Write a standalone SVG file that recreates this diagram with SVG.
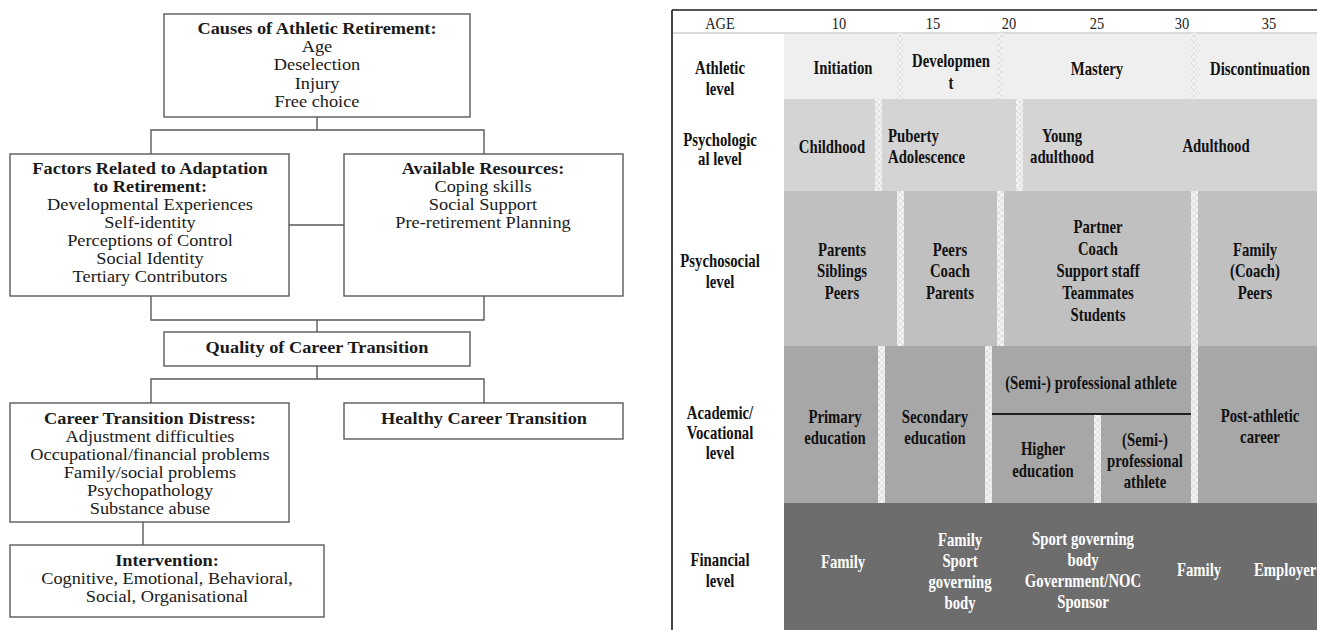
<svg xmlns="http://www.w3.org/2000/svg" width="1317" height="630" viewBox="0 0 1317 630">
<style>
.box{fill:#fff;stroke:#5a5a5a;stroke-width:1.4}
.con{fill:none;stroke:#5a5a5a;stroke-width:1.4}
.l{font-family:"Liberation Serif","Times New Roman",serif;font-size:16.5px;fill:#1a1a1a;text-anchor:middle}
.b{font-weight:bold}
.t{font-family:"Liberation Serif","Times New Roman",serif;font-size:18px;font-weight:bold;fill:#111;text-anchor:middle}
.w{fill:#fff}
.h{font-family:"Liberation Serif","Times New Roman",serif;font-size:16px;fill:#222;text-anchor:middle}
.sep{fill:url(#hatch)}
</style>
<defs>
<pattern id="hatch" width="6" height="6" patternUnits="userSpaceOnUse">
<rect width="6" height="6" fill="#f2f2f2"/>
<path d="M0 0L6 6M6 0L0 6" stroke="#d9d9d9" stroke-width="0.8"/>
</pattern>
</defs>
<rect width="1317" height="630" fill="#fff"/>

<!-- LEFT DIAGRAM -->
<g id="connectors">
<path class="con" d="M317 117V130M151 154V130H484V154M289 225H344M151 296V320H484V296M317 320V332M317 366V379M151 403V379H484V403M143 522V545"/>
</g>
<g id="causes">
<rect class="box" x="164" y="14" width="306" height="103"/>
<text class="l" transform="translate(317,34) scale(1.11,1)"><tspan class="b" x="0" y="0">Causes of Athletic Retirement:</tspan><tspan x="0" y="18.2">Age</tspan><tspan x="0" y="36.4">Deselection</tspan><tspan x="0" y="54.6">Injury</tspan><tspan x="0" y="72.8">Free choice</tspan></text>
</g>
<g id="factors">
<rect class="box" x="10" y="154" width="279" height="142"/>
<text class="l" transform="translate(150,174) scale(1.11,1)"><tspan class="b" x="0" y="0">Factors Related to Adaptation</tspan><tspan class="b" x="0" y="18">to Retirement:</tspan><tspan x="0" y="36">Developmental Experiences</tspan><tspan x="0" y="54">Self-identity</tspan><tspan x="0" y="72">Perceptions of Control</tspan><tspan x="0" y="90">Social Identity</tspan><tspan x="0" y="108">Tertiary Contributors</tspan></text>
</g>
<g id="resources">
<rect class="box" x="344" y="154" width="279" height="142"/>
<text class="l" transform="translate(483,174) scale(1.11,1)"><tspan class="b" x="0" y="0">Available Resources:</tspan><tspan x="0" y="18">Coping skills</tspan><tspan x="0" y="36">Social Support</tspan><tspan x="0" y="54">Pre-retirement Planning</tspan></text>
</g>
<g id="quality">
<rect class="box" x="164" y="332" width="306" height="34"/>
<text class="l b" transform="translate(317,353) scale(1.11,1)">Quality of Career Transition</text>
</g>
<g id="distress">
<rect class="box" x="10" y="403" width="279" height="119"/>
<text class="l" transform="translate(150,424) scale(1.11,1)"><tspan class="b" x="0" y="0">Career Transition Distress:</tspan><tspan x="0" y="18">Adjustment difficulties</tspan><tspan x="0" y="36">Occupational/financial problems</tspan><tspan x="0" y="54">Family/social problems</tspan><tspan x="0" y="72">Psychopathology</tspan><tspan x="0" y="90">Substance abuse</tspan></text>
</g>
<g id="healthy">
<rect class="box" x="344" y="403" width="279" height="36"/>
<text class="l b" transform="translate(484,424) scale(1.11,1)">Healthy Career Transition</text>
</g>
<g id="intervention">
<rect class="box" x="10" y="545" width="314" height="72"/>
<text class="l" transform="translate(167,566) scale(1.11,1)"><tspan class="b" x="0" y="0">Intervention:</tspan><tspan x="0" y="18">Cognitive, Emotional, Behavioral,</tspan><tspan x="0" y="36">Social, Organisational</tspan></text>
</g>

<!-- RIGHT TABLE -->
<g id="table-bg">
<rect x="784" y="33" width="533" height="66" fill="#efefef"/>
<rect x="784" y="99" width="533" height="92" fill="#d4d4d4"/>
<rect x="784" y="191" width="533" height="155" fill="#c0c0c0"/>
<rect x="784" y="346" width="533" height="157" fill="#a7a7a7"/>
<rect x="784" y="503" width="533" height="127" fill="#6d6d6d"/>
<line x1="672" y1="33" x2="1317" y2="33" stroke="#d0d0d0" stroke-width="1.5"/>
<line x1="672" y1="10" x2="1317" y2="10" stroke="#1a1a1a" stroke-width="1.6"/>
<line x1="672" y1="10" x2="672" y2="630" stroke="#1a1a1a" stroke-width="1.6"/>
</g>
<g id="separators">
<rect class="sep" x="897" y="33" width="6" height="66"/>
<rect class="sep" x="997" y="33" width="6" height="66"/>
<rect class="sep" x="1191" y="33" width="6" height="66"/>
<rect class="sep" x="875" y="99" width="7" height="92"/>
<rect class="sep" x="1016" y="99" width="7" height="92"/>
<rect class="sep" x="897" y="191" width="7" height="155"/>
<rect class="sep" x="997" y="191" width="7" height="155"/>
<rect class="sep" x="1191" y="191" width="7" height="155"/>
<rect class="sep" x="878" y="346" width="7" height="157"/>
<rect class="sep" x="985" y="346" width="7" height="157"/>
<rect class="sep" x="1191" y="346" width="7" height="157"/>
<rect class="sep" x="1094" y="414" width="7" height="89"/>
<line x1="992" y1="414" x2="1191" y2="414" stroke="#1e1e1e" stroke-width="2"/>
</g>
<g id="header">
<text class="h" transform="translate(720,29) scale(0.9,1)">AGE</text>
<text class="h" transform="translate(839,29) scale(0.9,1)">10</text>
<text class="h" transform="translate(933,29) scale(0.9,1)">15</text>
<text class="h" transform="translate(1009,29) scale(0.9,1)">20</text>
<text class="h" transform="translate(1097,29) scale(0.9,1)">25</text>
<text class="h" transform="translate(1182,29) scale(0.9,1)">30</text>
<text class="h" transform="translate(1269,29) scale(0.9,1)">35</text>
</g>
<g id="athletic-row">
<text class="t" transform="translate(720,74) scale(0.82,1)"><tspan x="0" y="0">Athletic</tspan><tspan x="0" y="21">level</tspan></text>
<text class="t" transform="translate(843,74) scale(0.82,1)">Initiation</text>
<text class="t" transform="translate(951,67) scale(0.82,1)"><tspan x="0" y="0">Developmen</tspan><tspan x="0" y="22">t</tspan></text>
<text class="t" transform="translate(1097,75) scale(0.82,1)">Mastery</text>
<text class="t" transform="translate(1260,75) scale(0.82,1)">Discontinuation</text>
</g>
<g id="psychological-row">
<text class="t" transform="translate(720,146) scale(0.82,1)"><tspan x="0" y="0">Psychologic</tspan><tspan x="0" y="19">al level</tspan></text>
<text class="t" transform="translate(832,153) scale(0.82,1)">Childhood</text>
<text class="t" style="text-anchor:start" transform="translate(888,142) scale(0.82,1)"><tspan x="0" y="0">Puberty</tspan><tspan x="0" y="21">Adolescence</tspan></text>
<text class="t" transform="translate(1062,142) scale(0.82,1)"><tspan x="0" y="0">Young</tspan><tspan x="0" y="21">adulthood</tspan></text>
<text class="t" transform="translate(1216,152) scale(0.82,1)">Adulthood</text>
</g>
<g id="psychosocial-row">
<text class="t" transform="translate(720,267) scale(0.82,1)"><tspan x="0" y="0">Psychosocial</tspan><tspan x="0" y="21">level</tspan></text>
<text class="t" transform="translate(842,256) scale(0.82,1)"><tspan x="0" y="0">Parents</tspan><tspan x="0" y="21.5">Siblings</tspan><tspan x="0" y="43">Peers</tspan></text>
<text class="t" transform="translate(950,256) scale(0.82,1)"><tspan x="0" y="0">Peers</tspan><tspan x="0" y="21.5">Coach</tspan><tspan x="0" y="43">Parents</tspan></text>
<text class="t" transform="translate(1098,233) scale(0.82,1)"><tspan x="0" y="0">Partner</tspan><tspan x="0" y="22">Coach</tspan><tspan x="0" y="44">Support staff</tspan><tspan x="0" y="66">Teammates</tspan><tspan x="0" y="88">Students</tspan></text>
<text class="t" transform="translate(1255,256) scale(0.82,1)"><tspan x="0" y="0">Family</tspan><tspan x="0" y="21.5">(Coach)</tspan><tspan x="0" y="43">Peers</tspan></text>
</g>
<g id="academic-row">
<text class="t" transform="translate(720,419) scale(0.82,1)"><tspan x="0" y="0">Academic/</tspan><tspan x="0" y="20">Vocational</tspan><tspan x="0" y="40">level</tspan></text>
<text class="t" transform="translate(835,423) scale(0.82,1)"><tspan x="0" y="0">Primary</tspan><tspan x="0" y="21">education</tspan></text>
<text class="t" transform="translate(935,423) scale(0.82,1)"><tspan x="0" y="0">Secondary</tspan><tspan x="0" y="21">education</tspan></text>
<text class="t" transform="translate(1091,389) scale(0.82,1)">(Semi-) professional athlete</text>
<text class="t" transform="translate(1043,455) scale(0.82,1)"><tspan x="0" y="0">Higher</tspan><tspan x="0" y="22">education</tspan></text>
<text class="t" transform="translate(1145,446) scale(0.82,1)"><tspan x="0" y="0">(Semi-)</tspan><tspan x="0" y="21">professional</tspan><tspan x="0" y="42">athlete</tspan></text>
<text class="t" transform="translate(1260,422) scale(0.82,1)"><tspan x="0" y="0">Post-athletic</tspan><tspan x="0" y="21">career</tspan></text>
</g>
<g id="financial-row">
<text class="t" transform="translate(720,566) scale(0.82,1)"><tspan x="0" y="0">Financial</tspan><tspan x="0" y="21">level</tspan></text>
<text class="t w" transform="translate(843,568) scale(0.82,1)">Family</text>
<text class="t w" transform="translate(960,546) scale(0.82,1)"><tspan x="0" y="0">Family</tspan><tspan x="0" y="21">Sport</tspan><tspan x="0" y="42">governing</tspan><tspan x="0" y="63">body</tspan></text>
<text class="t w" transform="translate(1083,545) scale(0.82,1)"><tspan x="0" y="0">Sport governing</tspan><tspan x="0" y="21">body</tspan><tspan x="0" y="42">Government/NOC</tspan><tspan x="0" y="63">Sponsor</tspan></text>
<text class="t w" transform="translate(1199,576) scale(0.82,1)">Family</text>
<text class="t w" style="text-anchor:start" transform="translate(1254,576) scale(0.82,1)">Employer</text>
</g>
</svg>
